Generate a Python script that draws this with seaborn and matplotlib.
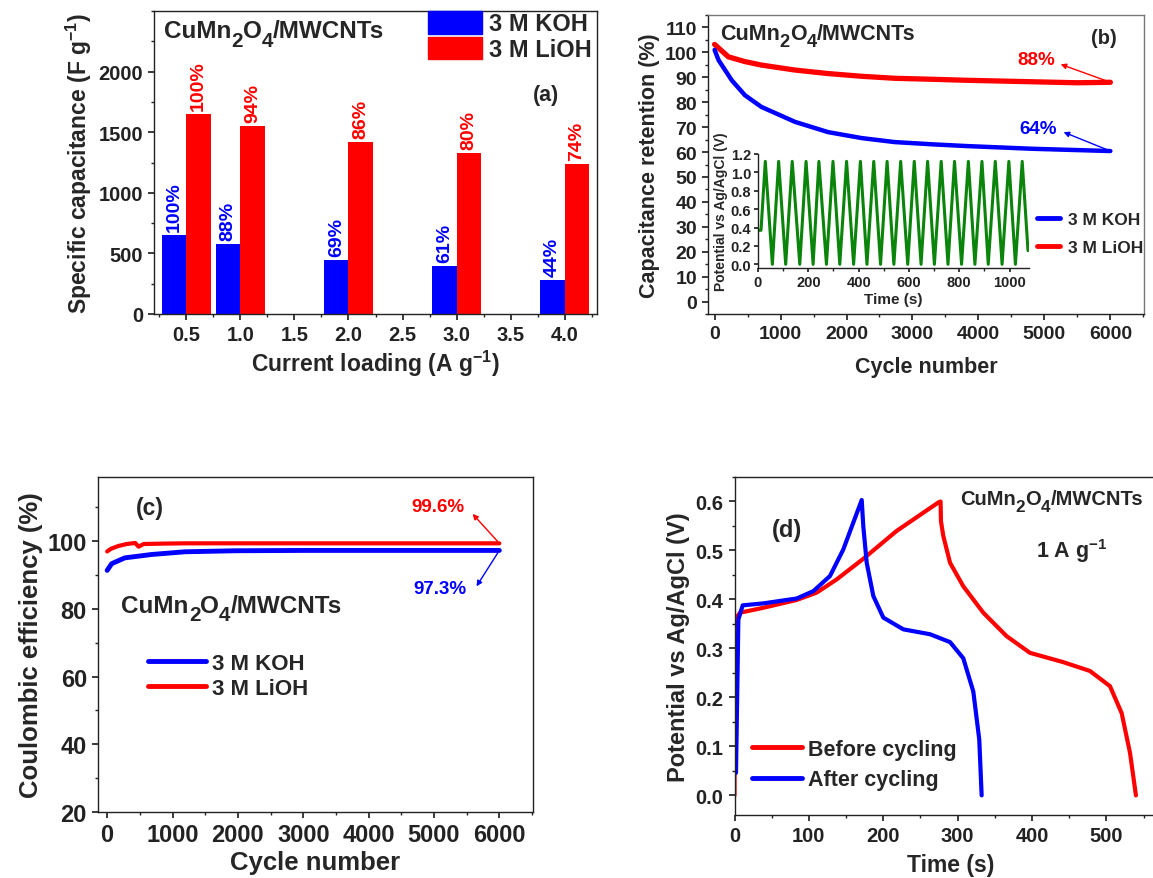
import matplotlib
matplotlib.use('Agg')
import matplotlib.pyplot as plt
import seaborn as sns
import pandas as pd
from matplotlib.patches import Patch
from matplotlib.lines import Line2D
from matplotlib.ticker import MultipleLocator, FixedLocator

# ---------------- data ----------------
# (a) specific capacitance vs current loading
tick_loads = ['0.5', '1.0', '1.5', '2.0', '2.5', '3.0', '3.5', '4.0']
loads = ['0.5', '1.0', '2.0', '3.0', '4.0']
cap_koh = [652, 576, 447, 398, 282]
cap_lioh = [1652, 1553, 1421, 1328, 1237]
ret_koh = ['100%', '88%', '69%', '61%', '44%']
ret_lioh = ['100%', '94%', '86%', '80%', '74%']

# (b) capacitance retention
cyc_ret_lioh = [0, 100, 210, 460, 710, 1220, 1720, 2230, 2730, 3300, 3820, 4830, 5500, 6000]
ret_lioh_curve = [103.2, 100.8, 98.2, 96.3, 94.9, 92.9, 91.5, 90.4, 89.6, 89.2, 88.8, 88.2, 87.8, 88.0]
cyc_ret_koh = [0, 60, 260, 460, 710, 1220, 1720, 2230, 2730, 3300, 3820, 4830, 6000]
ret_koh_curve = [101.0, 96.9, 88.8, 82.8, 78.1, 72.1, 68.0, 65.6, 64.0, 63.1, 62.4, 61.3, 60.4]

# (b) inset: GCD cycling (triangular wave)
gcd_start_t = [0, 12]
gcd_start_v = [0.37, 0.37]
peak_t = [29, 82, 136, 191, 242, 298, 352, 407, 460, 513, 567, 621, 674, 728, 781, 836, 890, 943, 997, 1050]
trough_t = [57, 110, 166, 219, 272, 325, 380, 433, 487, 540, 595, 648, 701, 755, 809, 862, 915, 970, 1023]
peak_v = 1.12
trough_v = 0.0
gcd_end_t = 1073
gcd_end_v = 0.15

# (c) coulombic efficiency
cyc_ce_lioh = [0, 60, 170, 300, 430, 480, 560, 800, 1200, 2000, 3000, 4000, 5000, 6000]
ce_lioh = [97.0, 97.8, 98.6, 99.2, 99.5, 98.4, 99.2, 99.3, 99.4, 99.4, 99.4, 99.4, 99.4, 99.4]
cyc_ce_koh = [0, 70, 270, 680, 1190, 1960, 3000, 4000, 5000, 6000]
ce_koh = [91.4, 93.4, 95.1, 96.1, 96.9, 97.2, 97.3, 97.3, 97.3, 97.3]

# (d) GCD before / after cycling
t_before = [0.0, 0.5, 7.4, 38.7, 83.6, 110.5, 137.4, 173.1, 218, 274, 277.0, 277.5, 280.6,
            289.7, 307.5, 334.4, 365.8, 397.2, 442, 477.8, 504.7, 520.4, 531.6, 539.6]
v_before = [0.0, 0.359, 0.373, 0.383, 0.399, 0.414, 0.441, 0.483, 0.540, 0.598, 0.600, 0.560,
            0.530, 0.475, 0.427, 0.373, 0.325, 0.291, 0.272, 0.254, 0.223, 0.168, 0.087, 0.0]
t_after = [2.0, 5.2, 11, 38.7, 83.6, 106, 128.4, 146.2, 159.7, 171, 173.1, 177.7, 186.6, 200,
           226.9, 262.8, 289.7, 307.5, 321, 329, 332.2]
v_after = [0.046, 0.359, 0.388, 0.392, 0.402, 0.417, 0.448, 0.502, 0.557, 0.603, 0.550, 0.475,
           0.407, 0.363, 0.339, 0.329, 0.313, 0.280, 0.212, 0.114, 0.0]

BLUE = '#0000ff'
RED = '#ff0000'
GREEN = '#0a840a'

# ---------------- style ----------------
sns.set_theme(style='ticks')
plt.rcParams['font.family'] = ['Liberation Sans', 'DejaVu Sans']
plt.rcParams['font.weight'] = 'bold'
plt.rcParams['axes.labelweight'] = 'bold'
plt.rcParams['mathtext.fontset'] = 'custom'
plt.rcParams['mathtext.rm'] = 'Liberation Sans:bold'
plt.rcParams['mathtext.it'] = 'Liberation Sans:bold'
plt.rcParams['mathtext.bf'] = 'Liberation Sans:bold'
plt.rcParams['mathtext.default'] = 'rm'
plt.rcParams['axes.edgecolor'] = '#222222'
plt.rcParams['axes.linewidth'] = 1.0
plt.rcParams['xtick.major.size'] = 4.5
plt.rcParams['ytick.major.size'] = 4.5
plt.rcParams['xtick.minor.size'] = 2.5
plt.rcParams['ytick.minor.size'] = 2.5
plt.rcParams['xtick.color'] = '#222222'
plt.rcParams['ytick.color'] = '#222222'

W, H = 1153, 879
fig = plt.figure(figsize=(W / 100, H / 100), dpi=100)


def rect(l, t, r, b):
    return [l / W, 1 - b / H, (r - l) / W, (b - t) / H]


def fxy(x, y):
    return (x / W, 1 - y / H)


def style_axes(ax, size):
    ax.tick_params(which='both', direction='out', labelsize=size)
    for s in ['top', 'right', 'left', 'bottom']:
        ax.spines[s].set_visible(True)
    for lab in ax.get_xticklabels() + ax.get_yticklabels():
        lab.set_fontweight('bold')


def chem_label(ax, x, y, size, sub=0.85, drop=0.3):
    # CuMn2O4/MWCNTs with Origin-style large subscripts
    parts = [('2', True), ('O', False), ('4', True), ('/MWCNTs', False)]
    prev = ax.text(*fxy(x, y), 'CuMn', transform=fig.transFigure, fontsize=size,
                   fontweight='bold', ha='left', va='baseline', clip_on=False)
    prev_sub = False
    for txt, is_sub in parts:
        dy = 0
        if is_sub and not prev_sub:
            dy = -drop * size
        if prev_sub and not is_sub:
            dy = drop * size
        prev = ax.annotate(txt, xy=(1, 0), xycoords=prev, xytext=(0, dy), textcoords='offset points',
                           fontsize=size * sub if is_sub else size, fontweight='bold',
                           ha='left', va='bottom', annotation_clip=False)
        prev_sub = is_sub


# ---------------- (a) ----------------
ax = fig.add_axes(rect(154, 12, 597, 315))
df_a = pd.DataFrame({
    'load': loads + loads,
    'cap': cap_koh + cap_lioh,
    'elec': ['3 M KOH'] * len(loads) + ['3 M LiOH'] * len(loads),
})
sns.barplot(data=df_a, x='load', y='cap', hue='elec', order=tick_loads,
            hue_order=['3 M KOH', '3 M LiOH'], palette=[BLUE, RED], saturation=1,
            width=0.9, edgecolor='none', linewidth=0, ax=ax, legend=False)
for i, ld in enumerate(loads):
    pos = tick_loads.index(ld)
    ax.annotate(ret_koh[i], xy=(pos - 0.225, cap_koh[i]), xytext=(0, 3), textcoords='offset points',
                rotation=90, ha='center', va='bottom', color=BLUE, fontsize=14, fontweight='bold')
    ax.annotate(ret_lioh[i], xy=(pos + 0.225, cap_lioh[i]), xytext=(0, 3), textcoords='offset points',
                rotation=90, ha='center', va='bottom', color=RED, fontsize=14, fontweight='bold')
ax.set_xlim(-0.6, 7.6)
ax.set_ylim(0, 2500)
ax.set_yticks([0, 500, 1000, 1500, 2000])
ax.yaxis.set_minor_locator(MultipleLocator(250))
ax.xaxis.set_minor_locator(FixedLocator([i - 0.5 for i in range(9)]))
ax.set_xticks(range(len(tick_loads)))
ax.set_xticklabels(tick_loads)
ax.set_xlabel(r'Current loading (A g$^{-1}$)', fontsize=16.5, labelpad=3)
ax.set_ylabel(r'Specific capacitance (F g$^{-1}$)', fontsize=16.5, labelpad=3)
style_axes(ax, 14.5)
ax.legend(handles=[Patch(color=BLUE, label='3 M KOH'), Patch(color=RED, label='3 M LiOH')],
          loc='upper left', bbox_to_anchor=fxy(428, 12), bbox_transform=fig.transFigure,
          frameon=False, fontsize=17, handlelength=2.3, handleheight=1.1, handletextpad=0.3,
          labelspacing=0.05, borderpad=0, borderaxespad=0)
chem_label(ax, 164, 38.5, 17.5)
fig.text(*fxy(546, 95), '(a)', fontsize=15.5, fontweight='bold', ha='center', va='center')

# ---------------- (b) ----------------
ax = fig.add_axes(rect(708, 16, 1144, 315))
sns.lineplot(x=cyc_ret_lioh, y=ret_lioh_curve, ax=ax, color=RED, lw=3.8, sort=False,
             estimator=None, legend=False)
sns.lineplot(x=cyc_ret_koh, y=ret_koh_curve, ax=ax, color=BLUE, lw=3.2, sort=False,
             estimator=None, legend=False)
ax.set_xlim(-100, 6510)
ax.set_ylim(-5, 115)
ax.set_yticks(range(0, 111, 10))
ax.yaxis.set_minor_locator(MultipleLocator(5))
ax.set_xticks(range(0, 6001, 1000))
ax.xaxis.set_minor_locator(MultipleLocator(500))
ax.set_xlabel('Cycle number', fontsize=15.5, labelpad=10)
ax.set_ylabel('Capacitance retention (%)', fontsize=15.5, labelpad=3)
style_axes(ax, 14)
for s in ['top', 'right']:
    ax.spines[s].set_color('#777777')
ax.annotate('', xy=(5206, 95.6), xytext=(cyc_ret_lioh[-1], ret_lioh_curve[-1]),
            arrowprops=dict(arrowstyle='-|>', color=RED, lw=1.0, mutation_scale=8))
ax.text(4872, 97.3, '88%', color=RED, fontsize=13.5, fontweight='bold', ha='center', va='center')
ax.annotate('', xy=(5252, 68.4), xytext=(cyc_ret_koh[-1], ret_koh_curve[-1]),
            arrowprops=dict(arrowstyle='-|>', color=BLUE, lw=1.0, mutation_scale=8))
ax.text(4902, 69.6, '64%', color=BLUE, fontsize=13.5, fontweight='bold', ha='center', va='center')
ax.legend(handles=[Line2D([], [], color=BLUE, lw=3.5, label='3 M KOH'),
                   Line2D([], [], color=RED, lw=3.5, label='3 M LiOH')],
          loc='center left', bbox_to_anchor=fxy(1037, 234.5), bbox_transform=fig.transFigure,
          frameon=False, fontsize=12.5, handlelength=1.35, handletextpad=0.45,
          labelspacing=0.75, borderpad=0, borderaxespad=0)
chem_label(ax, 720, 40, 15.5)
fig.text(*fxy(1103.5, 38.3), '(b)', fontsize=14.5, fontweight='bold', ha='center', va='center')

# inset
axi = fig.add_axes(rect(758, 155, 1029, 269))
gcd_t = list(gcd_start_t)
gcd_v = list(gcd_start_v)
for k in range(len(peak_t)):
    gcd_t.append(peak_t[k])
    gcd_v.append(peak_v)
    if k < len(trough_t):
        gcd_t.append(trough_t[k])
        gcd_v.append(trough_v)
gcd_t.append(gcd_end_t)
gcd_v.append(gcd_end_v)
sns.lineplot(x=gcd_t, y=gcd_v, ax=axi, color=GREEN, lw=2.2, sort=False, estimator=None)
axi.set_xlim(0, 1077)
axi.set_ylim(-0.04, 1.2)
axi.set_yticks([0.0, 0.2, 0.4, 0.6, 0.8, 1.0, 1.2])
axi.set_yticklabels(['0.0', '0.2', '0.4', '0.6', '0.8', '1.0', '1.2'])
axi.set_xticks(range(0, 1001, 200))
axi.xaxis.set_minor_locator(MultipleLocator(100))
axi.tick_params(which='both', direction='out', labelsize=10.5, length=3, pad=2)
axi.tick_params(which='minor', length=2)
for lab in axi.get_xticklabels() + axi.get_yticklabels():
    lab.set_fontweight('bold')
axi.spines['top'].set_visible(False)
axi.spines['right'].set_visible(False)
axi.patch.set_alpha(0)
axi.set_xlabel('Time (s)', fontsize=11, labelpad=2)
axi.set_ylabel('Potential vs Ag/AgCl (V)', fontsize=10, labelpad=2)

# ---------------- (c) ----------------
ax = fig.add_axes(rect(98, 478, 533, 813))
sns.lineplot(x=cyc_ce_koh, y=ce_koh, ax=ax, color=BLUE, lw=3.5, sort=False, estimator=None)
sns.lineplot(x=cyc_ce_lioh, y=ce_lioh, ax=ax, color=RED, lw=3.0, sort=False, estimator=None)
ax.set_xlim(-140, 6515)
ax.set_ylim(20, 119)
ax.set_yticks(range(20, 101, 20))
ax.yaxis.set_minor_locator(MultipleLocator(10))
ax.set_xticks(range(0, 6001, 1000))
ax.xaxis.set_minor_locator(MultipleLocator(500))
ax.set_xlabel('Cycle number', fontsize=18.5, labelpad=3)
ax.set_ylabel('Coulombic efficiency (%)', fontsize=18.5, labelpad=3)
style_axes(ax, 17)
ax.annotate('', xy=(5562, 108.7), xytext=(cyc_ce_lioh[-1], ce_lioh[-1]),
            arrowprops=dict(arrowstyle='-|>', color=RED, lw=1.0, mutation_scale=8))
ax.text(5068, 110.2, '99.6%', color=RED, fontsize=13.5, fontweight='bold', ha='center', va='center')
ax.annotate('', xy=(5628, 86.0), xytext=(cyc_ce_koh[-1], ce_koh[-1]),
            arrowprops=dict(arrowstyle='-|>', color=BLUE, lw=1.0, mutation_scale=8))
ax.text(5093, 86.0, '97.3%', color=BLUE, fontsize=13.5, fontweight='bold', ha='center', va='center')
ax.legend(handles=[Line2D([], [], color=BLUE, lw=3.5, label='3 M KOH'),
                   Line2D([], [], color=RED, lw=3.5, label='3 M LiOH')],
          loc='center left', bbox_to_anchor=fxy(148, 677), bbox_transform=fig.transFigure,
          frameon=False, fontsize=16, handlelength=2.6, handletextpad=0.3,
          labelspacing=0.2, borderpad=0, borderaxespad=0)
chem_label(ax, 121.4, 612.7, 17.5)
fig.text(*fxy(150, 508.3), '(c)', fontsize=16.5, fontweight='bold', ha='center', va='center')

# ---------------- (d) ----------------
ax = fig.add_axes(rect(734.5, 478, 1166, 816))
sns.lineplot(x=t_before, y=v_before, ax=ax, color=RED, lw=3.0, sort=False, estimator=None)
sns.lineplot(x=t_after, y=v_after, ax=ax, color=BLUE, lw=3.0, sort=False, estimator=None)
ax.set_xlim(0, 580)
ax.set_ylim(-0.04, 0.65)
ax.set_yticks([0.0, 0.1, 0.2, 0.3, 0.4, 0.5, 0.6])
ax.set_yticklabels(['0.0', '0.1', '0.2', '0.3', '0.4', '0.5', '0.6'])
ax.yaxis.set_minor_locator(MultipleLocator(0.05))
ax.set_xticks(range(0, 501, 100))
ax.xaxis.set_minor_locator(MultipleLocator(50))
ax.set_xlabel('Time (s)', fontsize=16.5, labelpad=6)
ax.set_ylabel('Potential vs Ag/AgCl (V)', fontsize=17, labelpad=4)
style_axes(ax, 14.5)
ax.legend(handles=[Line2D([], [], color=RED, lw=3.5, label='Before cycling'),
                   Line2D([], [], color=BLUE, lw=3.5, label='After cycling')],
          loc='center left', bbox_to_anchor=fxy(752, 765.5), bbox_transform=fig.transFigure,
          frameon=False, fontsize=15.5, handlelength=2.3, handletextpad=0.3,
          labelspacing=0.45, borderpad=0, borderaxespad=0)
chem_label(ax, 960, 505, 14.5)
fig.text(*fxy(787, 530), '(d)', fontsize=17, fontweight='bold', ha='center', va='center')
fig.text(*fxy(1036, 558), r'1 A g$^{-1}$', fontsize=15.5, fontweight='bold', ha='left', va='baseline')

fig.savefig('out.png', dpi=100)
